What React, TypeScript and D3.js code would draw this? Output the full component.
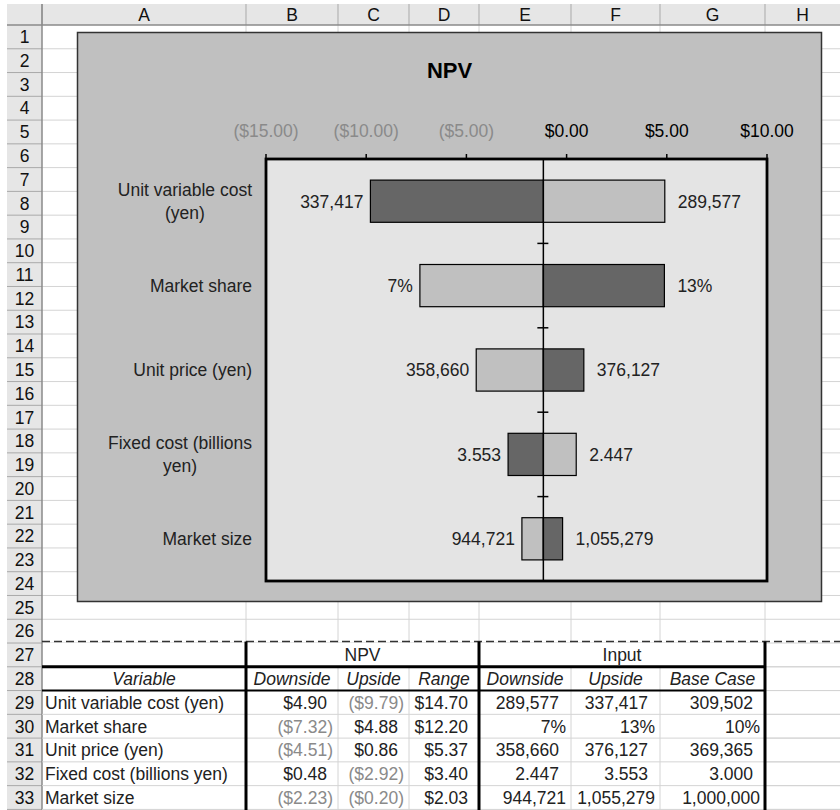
import React from "react";
import * as d3 from "d3";

// ---------- data ----------
const variables = [
  "Unit variable cost (yen)",
  "Market share",
  "Unit price (yen)",
  "Fixed cost (billions yen)",
  "Market size",
];
const npvDownside = [4.9, -7.32, -4.51, 0.48, -2.23];
const npvUpside = [-9.79, 4.88, 0.86, -2.92, -0.2];
const npvRange = [14.7, 12.2, 5.37, 3.4, 2.03];
const inputDownside = ["289,577", "7%", "358,660", "2.447", "944,721"];
const inputUpside = ["337,417", "13%", "376,127", "3.553", "1,055,279"];
const inputBase = ["309,502", "10%", "369,365", "3.000", "1,000,000"];
// number format of input rows carries a trailing "_)" pad
const inputParenPad = [true, false, true, true, false];
const baseNPV = -1.16;
const axisTicks = [-15, -10, -5, 0, 5, 10];
const columnLetters = ["A", "B", "C", "D", "E", "F", "G", "H"];
const npvHeaders = ["Downside", "Upside", "Range"];
const inputHeaders = ["Downside", "Upside", "Base Case"];

// ---------- layout ----------
const W = 840;
const H = 810;
const FONT = "'Liberation Sans', Arial, Helvetica, sans-serif";
const FS = 17.5;
const colEdges = [42, 246, 338, 409, 479, 571, 660, 765, 840];
const ROW_H = 23.77;
const ROW0 = 25;
const rowTop = (r: number) => ROW0 + (r - 1) * ROW_H;
const rowMid = (r: number) => rowTop(r) + ROW_H / 2;
const NROWS = 33;

const chartBox = { x: 77.5, y: 32.5, w: 744, h: 569 };
const plot = { x0: 266, x1: 767, y0: 159, y1: 581 };

const GREY_NEG = "#8a8a8a";

const fmtMoney = (v: number) =>
  v < 0 ? `($${Math.abs(v).toFixed(2)})` : `$${v.toFixed(2)}`;

let _ctx: CanvasRenderingContext2D | null = null;
function measure(text: string, size = FS, weight = "normal") {
  if (!_ctx) {
    const c = document.createElement("canvas");
    _ctx = c.getContext("2d");
  }
  if (!_ctx) return text.length * size * 0.5;
  _ctx.font = `${weight} ${size}px ${FONT}`;
  return _ctx.measureText(text).width;
}
function wrap(text: string, maxW: number) {
  const words = text.split(" ");
  const lines: string[] = [];
  let cur = "";
  for (const w of words) {
    const t = cur ? cur + " " + w : w;
    if (measure(t) > maxW && cur) {
      lines.push(cur);
      cur = w;
    } else cur = t;
  }
  if (cur) lines.push(cur);
  return lines;
}

export default function App() {
  const x = d3.scaleLinear().domain([-15, 10]).range([plot.x0, plot.x1]);
  const y = d3
    .scaleBand<string>()
    .domain(variables)
    .range([plot.y0, plot.y1])
    .paddingInner(0.5)
    .paddingOuter(0.25);
  const bw = y.bandwidth();
  const step = y.step();
  const xb = x(baseNPV);

  const gridLight = "#d4d4d4";
  const headSep = "#a9a9a9";

  return (
    <svg
      width={W}
      height={H}
      style={{ position: "absolute", left: 0, top: 0, background: "#fff" }}
      fontFamily={FONT}
      fontSize={FS}
    >
      {/* ---- spreadsheet grid ---- */}
      {d3.range(1, NROWS + 1).map((r) => (
        <line
          key={"hr" + r}
          x1={42}
          x2={W}
          y1={rowTop(r + 1)}
          y2={rowTop(r + 1)}
          stroke={gridLight}
        />
      ))}
      {colEdges.slice(1, -1).map((cx, i) => (
        <line key={"vc" + i} x1={cx} x2={cx} y1={ROW0} y2={H} stroke={gridLight} />
      ))}
      {/* column header */}
      <rect x={7} y={4} width={W - 7} height={ROW0 - 4} fill="#e6e6e6" />
      {colEdges.slice(0, -1).map((cx, i) => (
        <g key={"ch" + i}>
          <line x1={cx} x2={cx} y1={4} y2={ROW0} stroke={headSep} />
          <text
            x={(cx + colEdges[i + 1]) / 2}
            y={(4 + ROW0) / 2}
            dy="0.36em"
            textAnchor="middle"
            fill="#111"
            fontSize={17.5}
          >
            {columnLetters[i]}
          </text>
        </g>
      ))}
      {/* row header */}
      <rect x={7} y={ROW0} width={35} height={H - ROW0} fill="#e6e6e6" />
      {d3.range(1, NROWS + 1).map((r) => (
        <g key={"rh" + r}>
          <line x1={7} x2={42} y1={rowTop(r + 1)} y2={rowTop(r + 1)} stroke={headSep} />
          <text x={24.5} y={rowMid(r)} dy="0.36em" textAnchor="middle" fill="#111" fontSize={17.5}>
            {r}
          </text>
        </g>
      ))}
      <line x1={7} x2={W} y1={ROW0} y2={ROW0} stroke="#8a8a8a" strokeWidth={1.5} />
      <line x1={42} x2={42} y1={4} y2={H} stroke="#8a8a8a" strokeWidth={1.5} />

      {/* ---- chart ---- */}
      <rect
        x={chartBox.x}
        y={chartBox.y}
        width={chartBox.w}
        height={chartBox.h}
        fill="#c0c0c0"
        stroke="#333"
        strokeWidth={1.5}
      />
      <text
        x={chartBox.x + chartBox.w / 2}
        y={78}
        textAnchor="middle"
        fontWeight="bold"
        fontSize={22}
        fill="#000"
      >
        NPV
      </text>
      <rect
        x={plot.x0}
        y={plot.y0}
        width={plot.x1 - plot.x0}
        height={plot.y1 - plot.y0}
        fill="#e4e4e4"
      />
      {/* top value axis */}
      {axisTicks.map((t) => (
        <g key={"t" + t}>
          <line x1={x(t)} x2={x(t)} y1={plot.y0} y2={plot.y0 - 5} stroke="#000" strokeWidth={1.5} />
          <text
            x={x(t)}
            y={137}
            textAnchor="middle"
            fill={t < 0 ? GREY_NEG : "#000"}
          >
            {fmtMoney(t)}
          </text>
        </g>
      ))}
      {/* bars */}
      {variables.map((v, i) => {
        const yy = y(v) as number;
        const vals = [
          { val: npvDownside[i], fill: "#c0c0c0", lab: inputDownside[i] },
          { val: npvUpside[i], fill: "#666666", lab: inputUpside[i] },
        ];
        const left = vals[0].val < vals[1].val ? vals[0] : vals[1];
        const right = left === vals[0] ? vals[1] : vals[0];
        return (
          <g key={"b" + i}>
            {vals.map((b, j) => (
              <rect
                key={j}
                x={Math.min(x(b.val), xb)}
                y={yy}
                width={Math.abs(x(b.val) - xb)}
                height={bw}
                fill={b.fill}
                stroke="#000"
                strokeWidth={1.2}
              />
            ))}
            <text
              x={Math.min(x(left.val), xb) - 7}
              y={yy + bw / 2}
              dy="0.36em"
              textAnchor="end"
              fill="#222"
            >
              {left.lab}
            </text>
            <text
              x={Math.max(x(right.val), xb) + 13}
              y={yy + bw / 2}
              dy="0.36em"
              textAnchor="start"
              fill="#222"
            >
              {right.lab}
            </text>
          </g>
        );
      })}
      {/* category axis at base case */}
      <line x1={xb} x2={xb} y1={plot.y0} y2={plot.y1} stroke="#000" strokeWidth={1.5} />
      {d3.range(1, variables.length).map((k) => (
        <line
          key={"ct" + k}
          x1={xb - 6}
          x2={xb + 5}
          y1={plot.y0 + k * step}
          y2={plot.y0 + k * step}
          stroke="#000"
          strokeWidth={1.5}
        />
      ))}
      <rect
        x={plot.x0}
        y={plot.y0}
        width={plot.x1 - plot.x0}
        height={plot.y1 - plot.y0}
        fill="none"
        stroke="#000"
        strokeWidth={2.8}
      />
      {/* category labels */}
      {variables.map((v, i) => {
        const lines = wrap(v, 160);
        const blockW = Math.max(...lines.map((l) => measure(l)));
        const cx = 252 - blockW / 2;
        const cy = (y(v) as number) + bw / 2;
        const lh = 23;
        return (
          <text key={"cl" + i} textAnchor="middle" fill="#222">
            {lines.map((l, k) => (
              <tspan key={k} x={cx} y={cy + (k - (lines.length - 1) / 2) * lh} dy="0.36em">
                {l}
              </tspan>
            ))}
          </text>
        );
      })}

      {/* ---- table ---- */}
      <line
        x1={42}
        x2={W}
        y1={rowTop(27) - 1.5}
        y2={rowTop(27) - 1.5}
        stroke="#333"
        strokeWidth={1.5}
        strokeDasharray="8 4"
      />
      <rect x={43} y={rowTop(27)} width={colEdges[7] - 43} height={H - rowTop(27)} fill="#fff" />
      {d3.range(27, NROWS + 1).map((r) => (
        <line key={"tg" + r} x1={42} x2={W} y1={rowTop(r + 1)} y2={rowTop(r + 1)} stroke={gridLight} />
      ))}
      {[2, 3, 5, 6].map((c) => (
        <line
          key={"tv" + c}
          x1={colEdges[c]}
          x2={colEdges[c]}
          y1={rowTop(28)}
          y2={H}
          stroke={gridLight}
        />
      ))}
      <line x1={42} x2={colEdges[7]} y1={rowTop(28)} y2={rowTop(28)} stroke="#000" strokeWidth={3} />
      <line x1={42} x2={colEdges[7]} y1={rowTop(29)} y2={rowTop(29)} stroke="#000" strokeWidth={2} />
      {[1, 4, 7].map((c) => (
        <line
          key={"tk" + c}
          x1={colEdges[c]}
          x2={colEdges[c]}
          y1={rowTop(27) - 1.5}
          y2={H}
          stroke="#000"
          strokeWidth={3}
        />
      ))}
      <text x={(colEdges[1] + colEdges[4]) / 2} y={rowMid(27)} dy="0.36em" textAnchor="middle" fill="#222">
        NPV
      </text>
      <text x={(colEdges[4] + colEdges[7]) / 2} y={rowMid(27)} dy="0.36em" textAnchor="middle" fill="#222">
        Input
      </text>
      <text
        x={(colEdges[0] + colEdges[1]) / 2}
        y={rowMid(28)}
        dy="0.36em"
        textAnchor="middle"
        fontStyle="italic"
        fill="#222"
      >
        Variable
      </text>
      {[...npvHeaders, ...inputHeaders].map((h, k) => (
        <text
          key={"hd" + k}
          x={(colEdges[k + 1] + colEdges[k + 2]) / 2}
          y={rowMid(28)}
          dy="0.36em"
          textAnchor="middle"
          fontStyle="italic"
          fill="#222"
        >
          {h}
        </text>
      ))}
      {variables.map((v, i) => {
        const r = 29 + i;
        const money = [npvDownside[i], npvUpside[i], npvRange[i]];
        const inputs = [inputDownside[i], inputUpside[i], inputBase[i]];
        const pad = inputParenPad[i] ? 12 : 5;
        return (
          <g key={"row" + i}>
            <text x={45} y={rowMid(r)} dy="0.36em" fill="#222">
              {v}
            </text>
            {money.map((m, k) => (
              <text
                key={"m" + k}
                x={colEdges[k + 2] - (m < 0 ? 5 : 11)}
                y={rowMid(r)}
                dy="0.36em"
                textAnchor="end"
                fill={m < 0 ? GREY_NEG : "#222"}
              >
                {fmtMoney(m)}
              </text>
            ))}
            {inputs.map((s, k) => (
              <text
                key={"in" + k}
                x={colEdges[k + 5] - pad}
                y={rowMid(r)}
                dy="0.36em"
                textAnchor="end"
                fill="#222"
              >
                {s}
              </text>
            ))}
          </g>
        );
      })}
    </svg>
  );
}
